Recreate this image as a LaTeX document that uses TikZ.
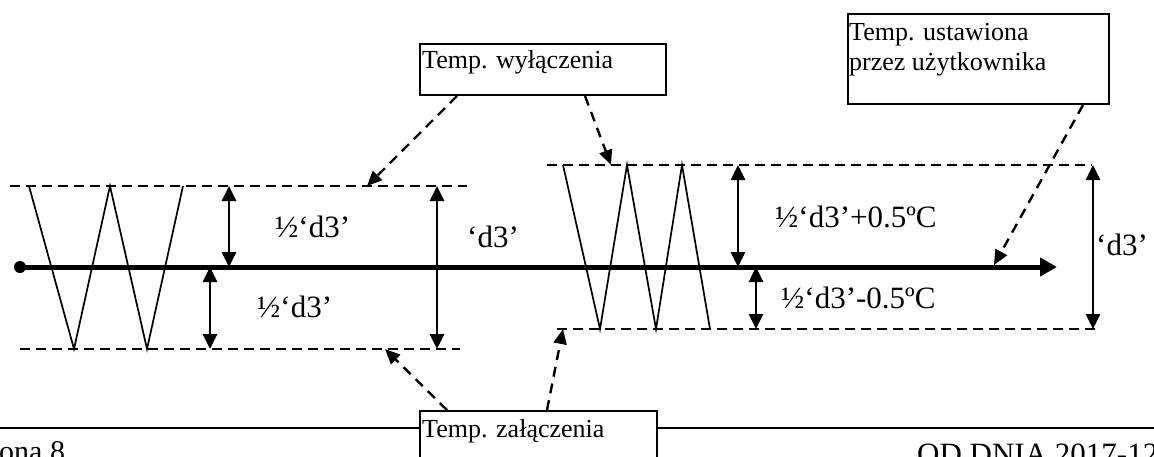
\documentclass[tikz,border=0pt]{standalone}
\usepackage{fontspec}
\setmainfont{Liberation Serif}
\usetikzlibrary{arrows.meta,calc}
\begin{document}
\begin{tikzpicture}[x=1pt,y=-1pt,
  lbl/.style={font=\fontsize{31}{34}\selectfont, inner sep=0pt, anchor=base west},
  boxtxt/.style={font=\fontsize{26}{30}\selectfont, inner sep=0pt, anchor=base west},
  frame/.style={draw, line width=2pt, fill=white, inner sep=0pt, anchor=north west},
  band/.style={line width=2.8pt, dash pattern=on 10pt off 6pt},
  zig/.style={line width=1.7pt},
  dim/.style={line width=2.6pt, {Triangle[length=15pt,width=14pt]}-{Triangle[length=15pt,width=14pt]}},
  ptr/.style={line width=2.4pt, dash pattern=on 10pt off 7pt, -{Triangle[length=15pt,width=13pt]}},
  axisline/.style={line width=5pt, -{Triangle[length=17pt,width=18pt]}},
  foot/.style={inner sep=0pt, anchor=base west}
]
\useasboundingbox (0,0) rectangle (1154,456);
\clip (0,0) rectangle (1154,456);

% footer rule (behind the box)
\coordinate (ruleL) at (0,428);
\coordinate (ruleR) at (1154,428);
\draw[line width=2.5pt] (ruleL) -- (ruleR);

% left band
\coordinate (lt1) at (10,186);  \coordinate (lt2) at (467,186);
\coordinate (lb1) at (20,349);  \coordinate (lb2) at (460,349);
\draw[band] (lt1) -- (lt2);
\draw[band] (lb1) -- (lb2);
\draw[zig] (29,186) -- (74,349) -- (110,186) -- (147,349) -- (183,186);

% right band
\coordinate (rt1) at (547,165); \coordinate (rt2) at (1092,165);
\coordinate (rb1) at (557,329); \coordinate (rb2) at (1099,329);
\draw[band] (rt1) -- (rt2);
\draw[band] (rb1) -- (rb2);
\draw[zig] (563,165) -- (600,329) -- (627,165) -- (656,329) -- (682,165) -- (710,329);

% axis
\node[circle, fill=black, inner sep=0pt, minimum size=12pt] (start) at (20,267) {};
\coordinate (axend) at (1057,267);
\draw[axisline] (start.center) -- (axend);

% dimension arrows
\coordinate (d1a) at (229,186); \coordinate (d1b) at (229,267);
\coordinate (d2a) at (210,267); \coordinate (d2b) at (210,349);
\coordinate (d3a) at (437,186); \coordinate (d3b) at (437,349);
\coordinate (d4a) at (738,165); \coordinate (d4b) at (738,267);
\coordinate (d5a) at (756,267); \coordinate (d5b) at (756,329);
\coordinate (d6a) at (1093,165); \coordinate (d6b) at (1093,329);
\draw[dim] (d1a) -- (d1b);
\draw[dim] (d2a) -- (d2b);
\draw[dim] (d3a) -- (d3b);
\draw[dim] (d4a) -- (d4b);
\draw[dim] (d5a) -- (d5b);
\draw[dim] (d6a) -- (d6b);

% labels
\node[lbl] (l1) at (275,237) {½‘d3’};
\node[lbl] (l2) at (257,317) {½‘d3’};
\node[lbl] (l3) at (467,247) {‘d3’};
\node[lbl] (l4) at (775,227) {½‘d3’+0.5ºC};
\node[lbl] (l5) at (781,308) {½‘d3’-0.5ºC};
\node[lbl] (l6) at (1096,255) {‘d3’};

% boxes
\node[frame, minimum width=246pt, minimum height=51pt] (woff) at (419,43) {};
\node[boxtxt] (wofft) at (422,68) {Temp. wyłączenia};
\node[frame, minimum width=261pt, minimum height=90pt] (user) at (847,13) {};
\node[boxtxt] (usert1) at (849,40) {Temp. ustawiona};
\node[boxtxt] (usert2) at (849,70) {przez użytkownika};
\node[frame, minimum width=237pt, minimum height=80pt] (won) at (419,410) {};
\node[boxtxt] (wont) at (422,437) {Temp. załączenia};

% pointers
\coordinate (p1) at (367,186);
\coordinate (p2) at (611,165);
\coordinate (p3) at (994,265);
\coordinate (p4) at (385,349);
\coordinate (p5) at (563,329);
\draw[ptr] ($(woff.south west)+(38,0)$) -- (p1);
\draw[ptr] ($(woff.south west)+(166,0)$) -- (p2);
\draw[ptr] ($(user.south west)+(236,0)$) -- (p3);
\draw[ptr] ($(won.north west)+(28,0)$) -- (p4);
\draw[ptr] ($(won.north west)+(128,0)$) -- (p5);

% footer texts
\node[foot, font=\fontsize{30}{32}\selectfont] (page) at (-36,461) {Strona 8};
\node[foot, font=\fontsize{31}{34}\selectfont] (date) at (917,464) {OD DNIA 2017-12};
\end{tikzpicture}
\end{document}
